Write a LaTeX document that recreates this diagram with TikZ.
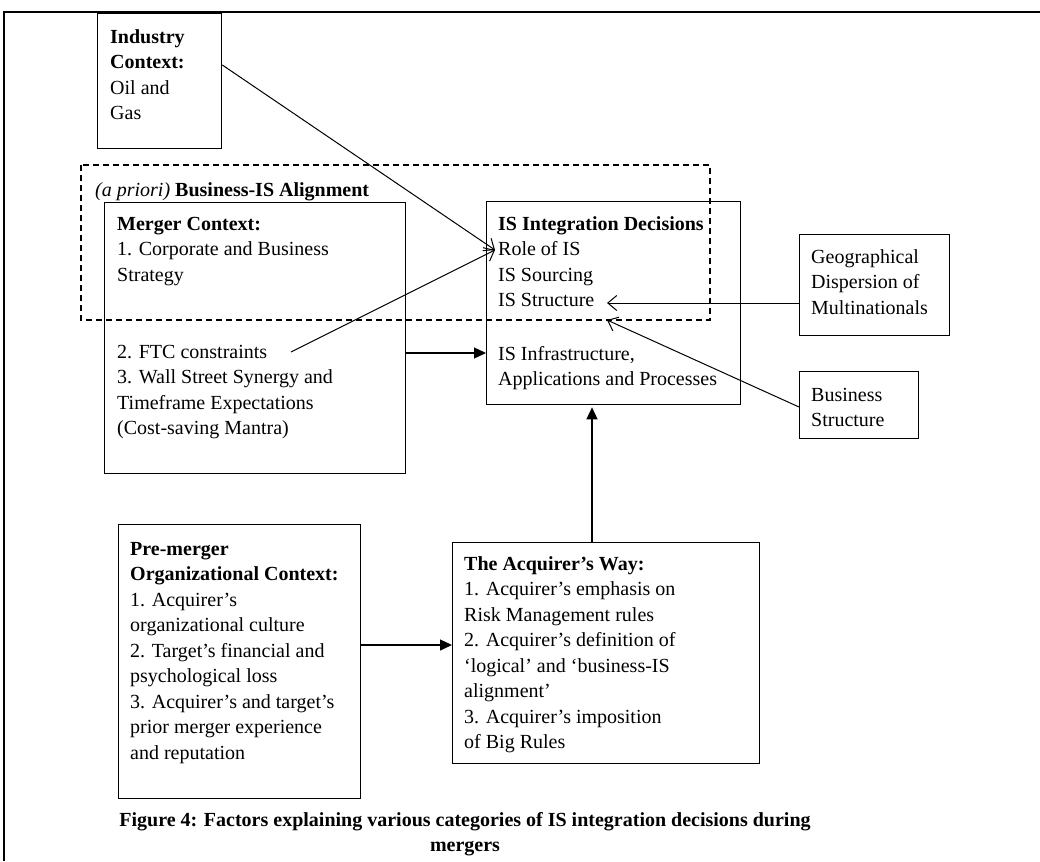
\documentclass[tikz,border=0pt]{standalone}
\usepackage{fontspec}
\setmainfont{Liberation Serif}
\usetikzlibrary{arrows.meta}
\tikzset{
  box/.style={draw=black, line width=1.3pt, inner sep=0pt, anchor=north west},
  txt/.style={anchor=north west, inner sep=0pt, align=left, font=\fontsize{20}{25.5}\selectfont},
  openarrow/.style={line width=1pt, -{Straight Barb[length=9pt,width=15pt,line width=1pt]}},
  fillarrow/.style={line width=1.3pt, -{Triangle[length=12pt,width=11pt]}},
  frameline/.style={line width=2.5pt, black},
  alignbox/.style={draw=black, line width=1.2pt, dash pattern=on 6pt off 4pt}
}
\begin{document}
\begin{tikzpicture}[x=1pt,y=-1pt]
\useasboundingbox (0,0) rectangle (1040,861);
% outer frame (top and left edges visible)
\coordinate (frTL) at (4,12);
\coordinate (frTR) at (1040,12);
\coordinate (frBL) at (4,861);
\draw[frameline] (frTR) -- (frTL) -- (frBL);

% dashed alignment region
\draw[alignbox] (81,165) rectangle (710,320);
\node[txt, anchor=base west] (alignlabel) at (95,196) {\textit{(a priori)} \textbf{Business-IS Alignment}};

% boxes
\node[box, minimum width=124pt, minimum height=135pt] (ind) at (97,13) {};
\node[box, minimum width=301pt, minimum height=271pt] (mer) at (104,202) {};
\node[box, minimum width=254pt, minimum height=203pt] (is) at (486,201) {};
\node[box, minimum width=150pt, minimum height=101pt] (geo) at (799,234) {};
\node[box, minimum width=119pt, minimum height=67pt] (bus) at (799,371) {};
\node[box, minimum width=242pt, minimum height=274pt] (pre) at (118,524) {};
\node[box, minimum width=307pt, minimum height=221pt] (acq) at (452,542) {};

% texts
\node[txt] (indtxt) at (110,25.15) {\strut\textbf{Industry}\\\textbf{Context:}\\Oil and\\Gas};
\node[txt] (mertop) at (117,212.15) {\strut\textbf{Merger Context:}\\1. Corporate and Business\\Strategy};
\node[txt] (merbot) at (117,340.15) {\strut 2. FTC constraints\\3. Wall Street Synergy and\\Timeframe Expectations\\(Cost-saving Mantra)};
\node[txt] (istop) at (498,212.15) {\strut\textbf{IS Integration Decisions}\\Role of IS\\IS Sourcing\\IS Structure};
\node[txt] (isbot) at (498,342.15) {\strut IS Infrastructure,\\Applications and Processes};
\node[txt] (geotxt) at (811,245.15) {\strut Geographical\\Dispersion of\\Multinationals};
\node[txt] (bustxt) at (811,383.15) {\strut Business\\Structure};
\node[txt] (pretxt) at (130,537.15) {\strut\textbf{Pre-merger}\\\textbf{Organizational Context:}\\1. Acquirer’s\\organizational culture\\2. Target’s financial and\\psychological loss\\3. Acquirer’s and target’s\\prior merger experience\\and reputation};
\node[txt] (acqtxt) at (464,552.15) {\strut\textbf{The Acquirer’s Way:}\\1. Acquirer’s emphasis on\\Risk Management rules\\2. Acquirer’s definition of\\‘logical’ and ‘business-IS\\alignment’\\3. Acquirer’s imposition\\of Big Rules};

% caption
\node[txt, anchor=north, align=center] (caption) at (465,808.15) {\strut\textbf{Figure 4: Factors explaining various categories of IS integration decisions during}\\\textbf{mergers}};

% connector helper coordinates
\coordinate (role) at (495,250);
\coordinate (ftc) at (291,352);
\coordinate (str1) at (607,303);
\coordinate (str2) at (607,320);
\coordinate (y65) at (0,65);
\coordinate (y353) at (0,353);
\coordinate (y303) at (0,303);
\coordinate (y407) at (0,407);
\coordinate (y645) at (0,645);
\coordinate (x592) at (592,0);

% connectors
\draw[openarrow] (ind.east |- y65) -- (role);
\draw[openarrow] (ftc) -- (role);
\draw[fillarrow] (mer.east |- y353) -- (is.west |- y353);
\draw[openarrow] (geo.west |- y303) -- (str1);
\draw[openarrow] (bus.west |- y407) -- (str2);
\draw[fillarrow, shorten >=2pt] (x592 |- acq.north) -- (x592 |- is.south);
\draw[fillarrow] (pre.east |- y645) -- (acq.west |- y645);
\end{tikzpicture}
\end{document}
